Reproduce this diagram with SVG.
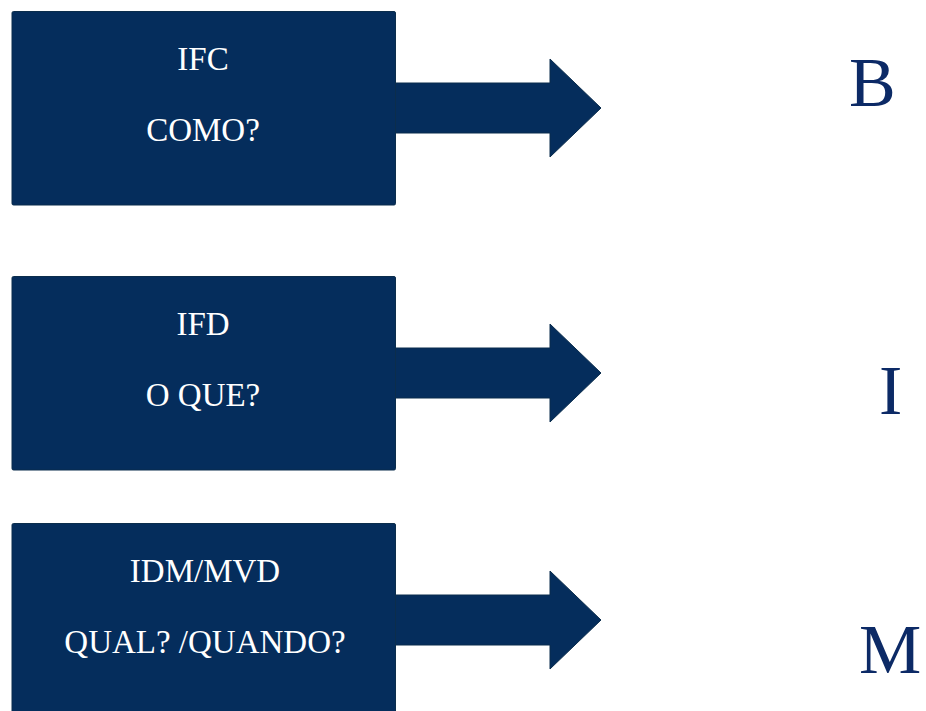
<svg xmlns="http://www.w3.org/2000/svg" width="926" height="711" viewBox="0 0 926 711">
<style>
.box{fill:#052d5c;stroke:#0b2d4c;stroke-width:1}
.arrow{fill:#052d5c;stroke:#0b2d4c;stroke-width:1;stroke-linejoin:round}
.lbl{font-family:"Liberation Serif","Times New Roman",serif;font-size:33px;fill:#ffffff;text-anchor:middle}
.big{font-family:"Liberation Serif","Times New Roman",serif;font-size:70px;fill:#0c2a66}
</style>
<rect width="926" height="711" fill="#ffffff"/>
<g id="connectors">
<path class="arrow" d="M395,83 L550,83 L550,59 L601,108 L550,157 L550,133 L395,133 Z"/>
<path class="arrow" d="M395,348 L550,348 L550,324 L601,373 L550,422 L550,398 L395,398 Z"/>
<path class="arrow" d="M395,595 L550,595 L550,571 L601,620 L550,669 L550,645 L395,645 Z"/>
</g>
<g id="node-ifc">
<rect class="box" x="12" y="11.5" width="383.5" height="193.5" rx="1.5"/>
<text class="lbl" x="203" y="70">IFC</text>
<text class="lbl" x="203" y="141">COMO?</text>
</g>
<g id="node-ifd">
<rect class="box" x="12" y="276.5" width="383.5" height="193.5" rx="1.5"/>
<text class="lbl" x="203" y="335">IFD</text>
<text class="lbl" x="203" y="406">O QUE?</text>
</g>
<g id="node-idm">
<rect class="box" x="12" y="523.5" width="383.5" height="200" rx="1.5"/>
<text class="lbl" x="205" y="582">IDM/MVD</text>
<text class="lbl" x="205" y="653">QUAL? /QUANDO?</text>
</g>
<g id="node-b"><text class="big" x="849" y="106">B</text></g>
<g id="node-i"><text class="big" x="879" y="414">I</text></g>
<g id="node-m"><text class="big" x="859" y="673">M</text></g>
</svg>
